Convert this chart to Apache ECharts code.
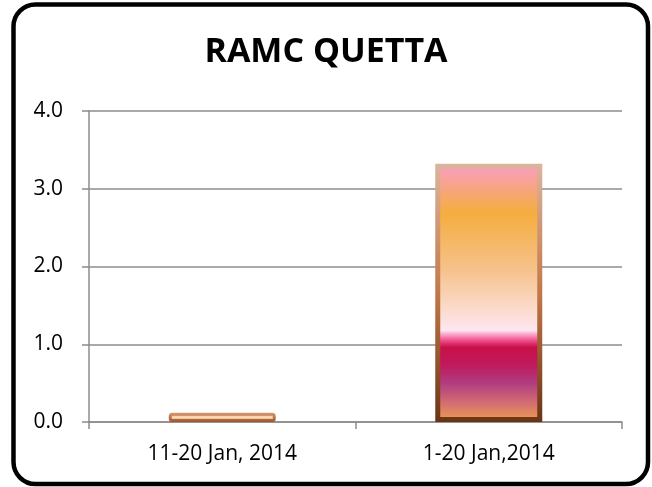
<!DOCTYPE html>
<html>
<head>
<meta charset="utf-8">
<script src="https://cdn.jsdelivr.net/npm/echarts@6/dist/echarts.min.js"></script>
<style>
  html, body { margin: 0; padding: 0; background: #fff; }
  #chart { width: 652px; height: 487px; }
</style>
</head>
<body>
<div id="chart"></div>
<script>
const categories = ['11-20 Jan, 2014', '1-20 Jan,2014']
const values = [0.12, 3.32]
const yTicks = { min: 0, max: 4, interval: 1 }

const grey = '#8c8c8c'
const font = '"Open Sans", "Liberation Sans", sans-serif'

// the tall bar: stacked bands of colour from top to bottom
const tallFill = new echarts.graphic.LinearGradient(0, 0, 0, 1, [
    { offset: 0, color: '#f99ccb' },
    { offset: 0.04, color: '#f8a0a8' },
    { offset: 0.19, color: '#f5ad3e' },
    { offset: 0.41, color: '#f6c28c' },
    { offset: 0.55, color: '#fbd9c6' },
    { offset: 0.645, color: '#fde6f0' },
    { offset: 0.66, color: '#f9a8cc' },
    { offset: 0.685, color: '#f04c88' },
    { offset: 0.71, color: '#c8104a' },
    { offset: 0.78, color: '#c01a5c' },
    { offset: 0.85, color: '#b03d80' },
    { offset: 0.93, color: '#d67070' },
    { offset: 1, color: '#eca050' }
])
const edge = new echarts.graphic.LinearGradient(0, 0, 0, 1, [
    { offset: 0, color: '#dcb49c' },
    { offset: 0.5, color: '#c27848' },
    { offset: 1, color: '#6a3414' }
])
const smallFill = new echarts.graphic.LinearGradient(0, 0, 0, 1, [
    { offset: 0, color: '#eba874' },
    { offset: 0.5, color: '#fcdcbc' },
    { offset: 1, color: '#d4824e' }
])
const smallEdge = new echarts.graphic.LinearGradient(0, 0, 0, 1, [
    { offset: 0, color: '#d99a70' },
    { offset: 1, color: '#a0542a' }
])

let chart = echarts.init(document.getElementById('chart'))
chart.setOption({
    animation: false,
    backgroundColor: '#fff',
    title: {
        text: 'RAMC QUETTA',
        left: 'center',
        top: 30,
        textStyle: {
            fontFamily: font,
            fontWeight: 'bold',
            fontSize: 34,
            color: '#000'
        }
    },
    graphic: [
        {
            type: 'rect',
            shape: { x: 13.5, y: 4.5, width: 634.5, height: 479.5, r: 22 },
            style: { fill: 'none', stroke: '#000', lineWidth: 4.5 },
            silent: true,
            z: 100
        }
    ],
    grid: {
        left: 89,
        right: 30,
        top: 111,
        bottom: 65
    },
    xAxis: {
        type: 'category',
        data: categories,
        axisLine: { show: true, lineStyle: { color: grey, width: 1.5 } },
        axisTick: { show: true, length: 7, alignWithLabel: false, lineStyle: { color: grey, width: 1.5 } },
        axisLabel: {
            margin: 22,
            fontFamily: font,
            fontSize: 21,
            color: '#000'
        }
    },
    yAxis: {
        type: 'value',
        min: yTicks.min,
        max: yTicks.max,
        interval: yTicks.interval,
        axisLine: { show: true, lineStyle: { color: grey, width: 1.5 } },
        axisTick: { show: true, length: 7, lineStyle: { color: grey, width: 1.5 } },
        splitLine: { show: true, lineStyle: { color: grey, width: 1.5 } },
        axisLabel: {
            margin: 26,
            fontFamily: font,
            fontSize: 21,
            color: '#000',
            formatter: v => v.toFixed(1)
        }
    },
    series: [
        {
            type: 'bar',
            barWidth: 107,
            data: values.map((v, i) => ({
                value: v,
                itemStyle: i === 0
                    ? { color: smallFill, borderColor: smallEdge, borderWidth: 3, borderRadius: 2 }
                    : { color: tallFill, borderColor: edge, borderWidth: 5 }
            }))
        }
    ]
})
</script>
</body>
</html>
